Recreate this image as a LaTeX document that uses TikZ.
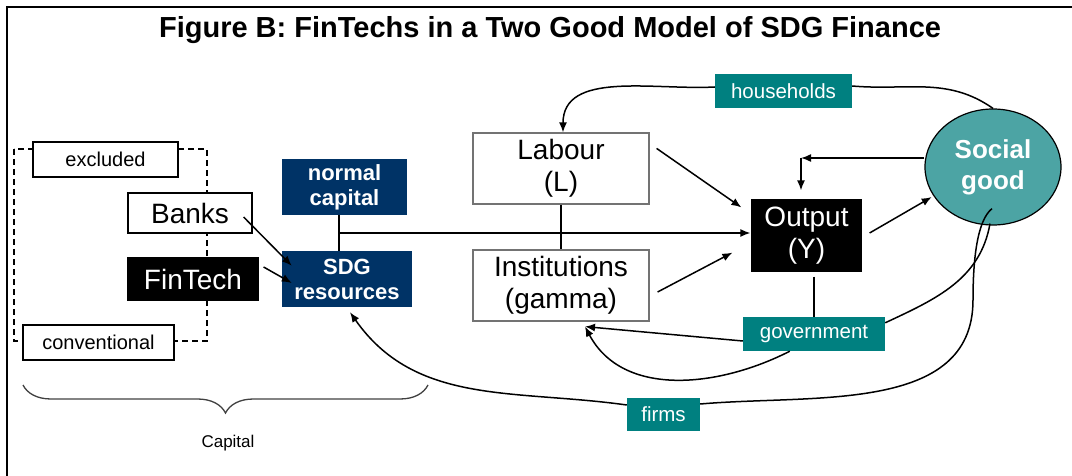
\documentclass[tikz,border=0pt]{standalone}
\usepackage{fontspec}
\setmainfont{Liberation Sans}
\usetikzlibrary{arrows.meta, shapes.geometric, decorations.pathreplacing, calc}
\definecolor{navybox}{RGB}{0,51,102}
\definecolor{tagteal}{RGB}{0,128,128}
\definecolor{goodteal}{RGB}{76,164,164}

\begin{document}
\begin{tikzpicture}[x=1pt, y=1pt,
    plain/.style={draw, line width=1.2pt, fill=white, inner sep=0pt, align=center},
    greybox/.style={plain, draw=black!55},
    bigtxt/.style={font=\fontsize{28}{32}\selectfont},
    smalltxt/.style={font=\fontsize{20}{23}\selectfont},
    navy/.style={fill=navybox, text=white, inner sep=0pt, align=center,
      font=\fontsize{22}{25}\selectfont\bfseries},
    tag/.style={fill=tagteal, text=white, inner sep=0pt, font=\fontsize{20.5}{23}\selectfont},
    link/.style={line width=1.5pt},
    arrow/.style={link, -{Latex[length=10pt, width=8pt]}}]

    \useasboundingbox (0,0) rectangle (1072,-476);

    % frame
    \draw[line width=2.6pt] (7,-476) -- (7,-7) -- (1072,-7);

    \node[font=\fontsize{29}{34}\selectfont\bfseries] (title) at (550,-30)
      {Figure B: FinTechs in a Two Good Model of SDG Finance};

    % capital side
    \draw[line width=1.3pt, dash pattern=on 6pt off 4pt] (14,-149) rectangle (207,-341);
    \node[plain, smalltxt, minimum width=145, minimum height=35] (excl) at (105.5,-159.5) {excluded};
    \node[plain, bigtxt, minimum width=124, minimum height=40] (banks) at (190,-213) {Banks};
    \node[plain, bigtxt, fill=black, text=white, minimum width=130, minimum height=42] (fintech) at (193,-279) {FinTech};
    \node[plain, smalltxt, minimum width=151, minimum height=35] (conv) at (98.5,-342.5) {conventional};

    \node[navy, minimum width=125, minimum height=56] (normcap) at (344.5,-187) {normal\\capital};
    \node[navy, minimum width=130, minimum height=56] (sdg) at (347,-279) {SDG\\resources};

    \draw[decorate, decoration={brace, mirror, amplitude=28pt}, line width=1.3pt, black!75] (23,-385) -- (428,-385);
    \node[font=\fontsize{17}{20}\selectfont] (capital) at (228,-443) {Capital};

    % production side
    \node[greybox, bigtxt, minimum width=176, minimum height=71] (labour) at (561,-168.5) {Labour\\(L)};
    \node[greybox, bigtxt, minimum width=176, minimum height=71] (inst) at (561,-285.5) {Institutions\\(gamma)};
    \node[plain, bigtxt, fill=black, text=white, minimum width=109, minimum height=71] (output) at (806.5,-235.5) {Output\\(Y)};
    \node[ellipse, draw, line width=1.2pt, fill=goodteal, text=white, inner sep=0pt, align=center,
      minimum width=136, minimum height=116, font=\fontsize{26}{31}\selectfont\bfseries] (social) at (993,-167) {Social\\good};

    \node[tag, minimum width=137, minimum height=34] (hh) at (783.5,-91) {households};
    \node[tag, minimum width=142, minimum height=34] (gov) at (814,-334) {government};
    \node[tag, minimum width=73, minimum height=33] (firms) at (663.5,-414) {firms};

    \coordinate (j) at (339,-233);
    \coordinate (crn) at (801,-158);

    % finance into SDG resources
    \draw[arrow] ($(banks.east)+(-9,-4)$) -- ($(sdg.north west)+(10,-15)$);
    \draw[arrow] ($(fintech.east)+(5,12)$) -- ($(sdg.west)+(10,-4)$);
    \draw[link] (j |- normcap.south) -- (j |- sdg.north);
    \draw[arrow, shorten >=1pt] (j) -- (j -| output.west);
    \draw[link] (labour.south) -- (inst.north);

    % inputs to output
    \draw[arrow] ($(labour.north east)+(7,-16)$) -- ($(output.north west)+(-10,-8)$);
    \draw[arrow] ($(inst.east)+(8,-6.5)$) -- ($(output.south west)+(-19,19)$);
    \draw[arrow, shorten >=2pt] ($(output.east)+(8,2.5)$) -- (social.206);
    \draw[arrow] (social.west |- crn) -- (crn);
    \draw[arrow, shorten >=9pt] (crn) -- (crn |- output.north);

    % flows of the social good
    \draw[link] (social.north) to[out=145, in=-5] ([yshift=5pt]hh.east);
    \draw[arrow] ([yshift=4pt]hh.west) to[out=183, in=90] ([xshift=2pt]labour.north);

    \draw[link] ([yshift=-5pt]output.south -| gov.north) -- (gov.north);
    \draw[arrow] ([yshift=-7pt]gov.west) -- ($(inst.south)+(24,-5)$);
    \draw[arrow] ($(gov.south west)+(47,0)$) to[out=207, in=-62] ($(inst.south)+(24,-5)$);
    \draw[link] ($(social.south)+(-3,2)$) to[out=-100, in=25] ([yshift=-6pt]gov.north east);

    \draw[link] ($(social.south)+(-1,17)$) .. controls +(-15,-12) and +(0,40) .. (973,-300)
      to[out=-90, in=5] ([yshift=10pt]firms.east);
    \draw[arrow] ([yshift=9pt]firms.west) to[out=172, in=-55] ($(sdg.south)+(3,-5)$);
\end{tikzpicture}
\end{document}
